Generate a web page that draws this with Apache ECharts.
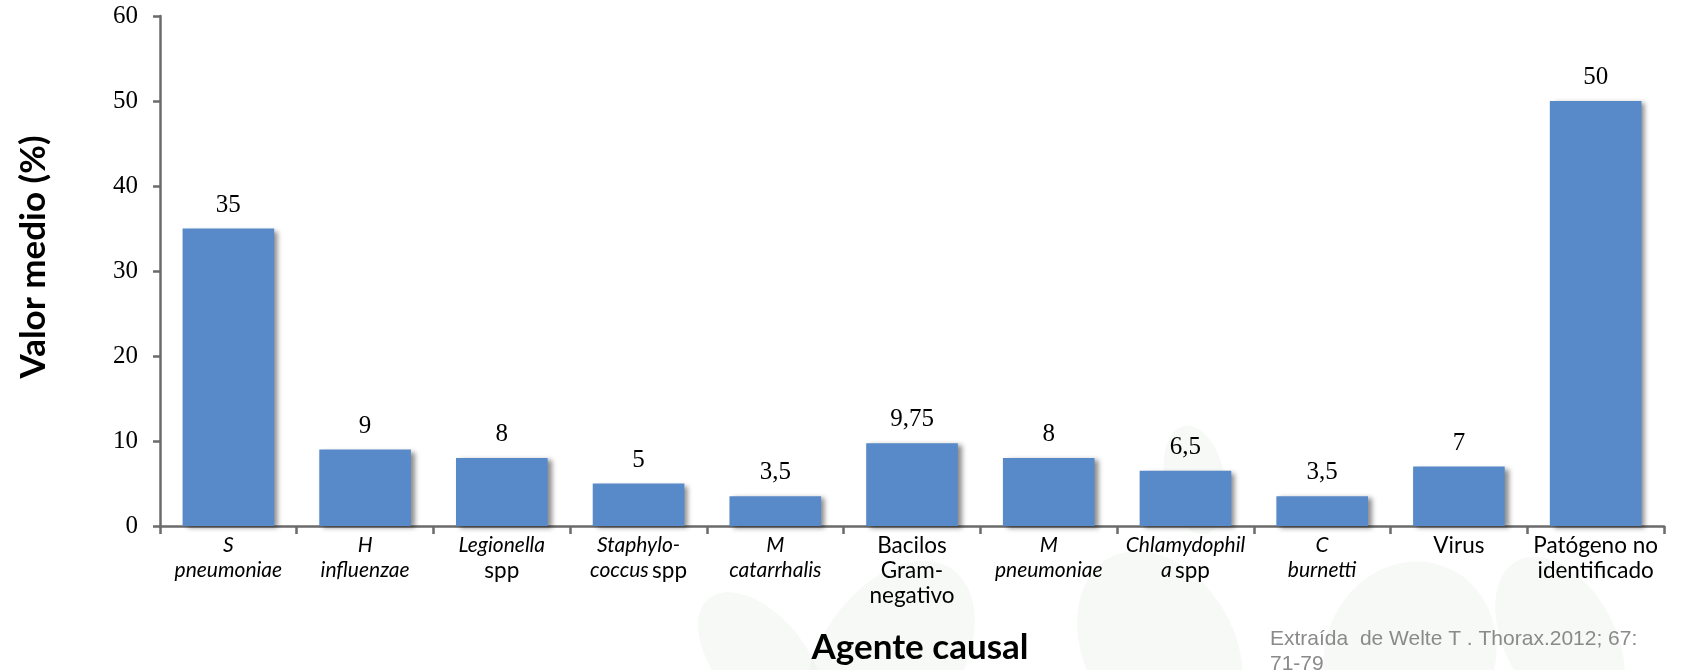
<!DOCTYPE html>
<html>
<head>
<meta charset="utf-8">
<script src="https://cdn.jsdelivr.net/npm/echarts@6/dist/echarts.min.js"></script>
<style>
  html, body { margin: 0; padding: 0; background: #ffffff; }
  #chart { width: 1683px; height: 670px; }
</style>
</head>
<body>
<div id="chart"></div>
<script>
// Causal agents and mean value (%)
const categories = [
  'S pneumoniae', 'H influenzae', 'Legionella spp', 'Staphylococcus spp',
  'M catarrhalis', 'Bacilos Gram-negativo', 'M pneumoniae', 'Chlamydophila spp',
  'C burnetti', 'Virus', 'Patógeno no identificado'
];
// Axis label markup: {i|...} italic, {n|...} upright
const categoryLabels = [
  '{i|S}\n{i|pneumoniae}',
  '{i|H}\n{i|influenzae}',
  '{i|Legionella}\n{n|spp}',
  '{i|Staphylo-}\n{i|coccus} {n|spp}',
  '{i|M}\n{i|catarrhalis}',
  '{n|Bacilos}\n{n|Gram-}\n{n|negativo}',
  '{i|M}\n{i|pneumoniae}',
  '{i|Chlamydophil}\n{i|a} {n|spp}',
  '{i|C}\n{i|burnetti}',
  '{n|Virus}',
  '{n|Patógeno no}\n{n|identificado}'
];
const values = [35, 9, 8, 5, 3.5, 9.75, 8, 6.5, 3.5, 7, 50];
const yTicks = [0, 10, 20, 30, 40, 50, 60];

const sansFont = 'Lato, "Open Sans", "Liberation Sans", sans-serif';
const serifFont = '"Liberation Serif", "DejaVu Serif", serif';

const chart = echarts.init(document.getElementById('chart'), null, { renderer: 'canvas' });

// faint leaf shapes in the background
const leafColor = 'rgba(226, 236, 226, 0.3)';
const leaves = [
  { cx: 890, cy: 660, rx: 70, ry: 110, rot: -0.6 },
  { cx: 1160, cy: 650, rx: 75, ry: 105, rot: 0.5 },
  { cx: 1195, cy: 480, rx: 30, ry: 55, rot: 0.2 },
  { cx: 1410, cy: 655, rx: 85, ry: 95, rot: -0.4 },
  { cx: 1560, cy: 640, rx: 55, ry: 90, rot: 0.5 },
  { cx: 760, cy: 660, rx: 45, ry: 80, rot: 0.7 }
];

chart.setOption({
  backgroundColor: '#ffffff',
  animation: false,
  graphic: leaves.map(l => ({
    type: 'ellipse',
    z: -10,
    silent: true,
    x: l.cx, y: l.cy,
    rotation: l.rot,
    shape: { cx: 0, cy: 0, rx: l.rx, ry: l.ry },
    style: { fill: leafColor }
  })).concat([{
    type: 'text',
    left: 1270,
    top: 627,
    style: {
      text: 'Extraída  de Welte T . Thorax.2012; 67:\n71-79',
      font: '21px "Liberation Sans", Arial, sans-serif',
      fill: '#8a8a8a',
      lineHeight: 25
    }
  }]),
  grid: { left: 160, right: 19, top: 16, bottom: 144, containLabel: false },
  xAxis: {
    type: 'category',
    data: categories,
    name: 'Agente causal',
    nameLocation: 'middle',
    nameGap: 104,
    nameTextStyle: {
      fontFamily: sansFont, fontWeight: 'bold', fontSize: 35, color: '#000',
      padding: [0, 0, 0, 16]
    },
    axisLine: { lineStyle: { color: '#6b6b6b', width: 2.5 } },
    axisTick: { show: true, length: 8, lineStyle: { color: '#6b6b6b', width: 2.5 } },
    axisLabel: {
      interval: 0,
      margin: 7,
      formatter: (v, i) => categoryLabels[i],
      rich: {
        i: { fontFamily: sansFont, fontStyle: 'italic', fontSize: 21, color: '#000', lineHeight: 25 },
        n: { fontFamily: sansFont, fontSize: 22.5, color: '#000', lineHeight: 25 }
      }
    }
  },
  yAxis: {
    type: 'value',
    min: yTicks[0],
    max: yTicks[yTicks.length - 1],
    interval: 10,
    name: 'Valor medio (%)',
    nameLocation: 'middle',
    nameGap: 109,
    nameTextStyle: {
      fontFamily: sansFont, fontWeight: 'bold', fontSize: 35, color: '#000',
      padding: [0, 0, 0, 28]
    },
    axisLine: { show: true, lineStyle: { color: '#6b6b6b', width: 2.5 } },
    axisTick: { show: true, length: 7, lineStyle: { color: '#6b6b6b', width: 2.5 } },
    splitLine: { show: false },
    axisLabel: {
      margin: 22,
      fontFamily: serifFont,
      fontSize: 25,
      color: '#000'
    }
  },
  series: [{
    type: 'bar',
    data: values,
    barCategoryGap: '33%',
    itemStyle: {
      color: '#5889c9',
      shadowColor: 'rgba(0,0,0,0.45)',
      shadowBlur: 5,
      shadowOffsetX: 4,
      shadowOffsetY: 2
    },
    label: {
      show: true,
      position: 'top',
      distance: 11,
      fontFamily: serifFont,
      fontSize: 25,
      color: '#000',
      formatter: p => String(p.value).replace('.', ',')
    }
  }]
});
</script>
</body>
</html>
